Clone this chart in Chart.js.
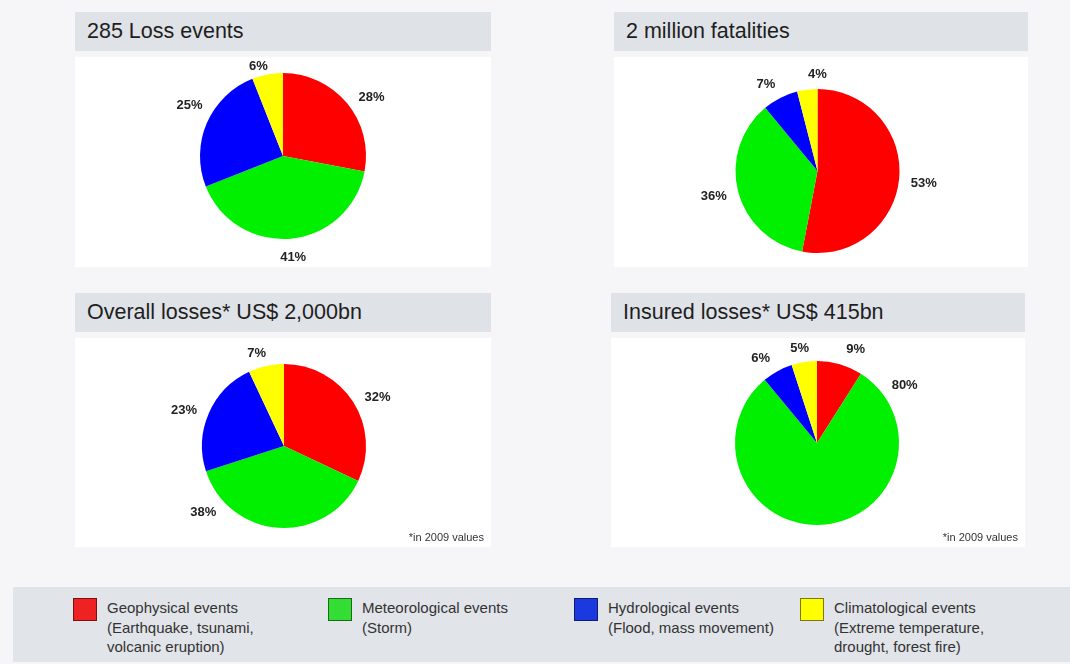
<!DOCTYPE html>
<html>
<head>
<meta charset="utf-8">
<script src="https://cdn.jsdelivr.net/npm/chart.js@4"></script>
<style>
  html, body { margin: 0; padding: 0; }
  body { width: 1070px; height: 664px; background: #f6f6f8; position: relative; overflow: hidden;
         font-family: 'Liberation Sans', Arial, sans-serif; color: #222; }
  .head { position: absolute; background: #dfe2e7; height: 39px; line-height: 39px;
          font-size: 21.5px; padding-left: 12px; box-sizing: border-box; color: #1e1e1e; }
  .body { position: absolute; background: #ffffff; }
  .body canvas { position: absolute; left: 0; top: 0; }
  .note { position: absolute; right: 7px; bottom: 4px; font-size: 11px; color: #333; }
  #legend { position: absolute; left: 13px; top: 587px; width: 1057px; height: 75px; background: #e1e4e9; }
  .item { position: absolute; top: 11px; font-size: 15px; line-height: 19.5px; color: #333; }
  .sw { position: absolute; left: 0; top: 0; width: 22px; height: 21px; border: 1px solid; }
  .txt { position: absolute; top: 0; white-space: nowrap; }
</style>
</head>
<body>
<div id="p0h" class="head" style="left:75px;top:12px;width:416px;"></div>
<div class="body" style="left:75px;top:57px;width:416px;height:210px;"><canvas id="c0"></canvas></div>
<div id="p1h" class="head" style="left:614px;top:12px;width:414px;"></div>
<div class="body" style="left:614px;top:57px;width:414px;height:210px;"><canvas id="c1"></canvas></div>
<div id="p2h" class="head" style="left:75px;top:293px;width:416px;"></div>
<div class="body" style="left:75px;top:338px;width:416px;height:209px;"><canvas id="c2"></canvas><div class="note">*in 2009 values</div></div>
<div id="p3h" class="head" style="left:611px;top:293px;width:414px;"></div>
<div class="body" style="left:611px;top:338px;width:414px;height:209px;"><canvas id="c3"></canvas><div class="note">*in 2009 values</div></div>
<div id="legend"></div>
<script>
// categories and values, clockwise from 12 o'clock
const categories = ['Geophysical events', 'Meteorological events', 'Hydrological events', 'Climatological events'];
const categoryNotes = [
  ['(Earthquake, tsunami,', 'volcanic eruption)'],
  ['(Storm)'],
  ['(Flood, mass movement)'],
  ['(Extreme temperature,', 'drought, forest fire)']
];
const titles = ['285 Loss events', '2 million fatalities', 'Overall losses* US$ 2,000bn', 'Insured losses* US$ 415bn'];
const lossEvents = [28, 41, 25, 6];
const fatalities = [53, 36, 7, 4];
const overallLosses = [32, 38, 23, 7];
const insuredLosses = [9, 80, 6, 5];

const sliceColors = ['#ff0000', '#00f000', '#0000ff', '#ffff00'];
const swatchColors = ['#ee2222', '#33dd33', '#1a3ae0', '#ffff00'];
const swatchBorders = ['#7a1010', '#1a6a1a', '#101a70', '#7a7a10'];

// pie labels drawn outside the slices; angles (deg from top) / gaps can be nudged per label
const outsideLabels = {
  id: 'outsideLabels',
  afterDatasetsDraw(chart, args, opts) {
    const ctx = chart.ctx;
    const meta = chart.getDatasetMeta(0);
    const values = chart.data.datasets[0].data;
    ctx.save();
    ctx.font = 'bold 13px "Liberation Sans", Arial';
    ctx.fillStyle = '#222';
    ctx.textAlign = 'center';
    ctx.textBaseline = 'middle';
    meta.data.forEach(function(arc, i) {
      const p = arc.getProps(['x', 'y', 'startAngle', 'endAngle', 'outerRadius'], true);
      let a = (p.startAngle + p.endAngle) / 2;
      if (opts.angles && opts.angles[i] != null) {
        a = (opts.angles[i] - 90) * Math.PI / 180;
      }
      let gap = 12;
      if (opts.gaps && opts.gaps[i] != null) {
        gap = opts.gaps[i];
      }
      const text = values[i] + '%';
      const w = ctx.measureText(text).width;
      const h = 13;
      const x = p.x + (p.outerRadius + gap + w / 2) * Math.cos(a);
      const y = p.y + (p.outerRadius + gap + h / 2) * Math.sin(a);
      ctx.fillText(text, x, y);
    });
    ctx.restore();
  }
};

function makePie(id, values, size, padding, labelAngles, labelGaps) {
  const canvas = document.getElementById(id);
  canvas.width = size[0];
  canvas.height = size[1];
  canvas.style.width = size[0] + 'px';
  canvas.style.height = size[1] + 'px';
  return new Chart(canvas.getContext('2d'), {
    type: 'pie',
    data: {
      labels: categories,
      datasets: [{
        data: values,
        backgroundColor: sliceColors,
        borderWidth: 0,
        hoverOffset: 0
      }]
    },
    options: {
      responsive: false,
      animation: false,
      layout: { padding: padding },
      plugins: {
        legend: { display: false },
        tooltip: { enabled: false },
        outsideLabels: { angles: labelAngles, gaps: labelGaps }
      }
    },
    plugins: [outsideLabels]
  });
}

titles.forEach(function(t, i) {
  document.getElementById('p' + i + 'h').textContent = t;
});

makePie('c0', lossEvents, [416, 210], { left: 125, right: 125, top: 16, bottom: 28 },
  [55, null, 300, 345], [null, null, null, 3]);
makePie('c1', fatalities, [414, 210], { left: 121, right: 128, top: 32, bottom: 14 },
  [97, null, 330, 0], [null, null, null, 8]);
makePie('c2', overallLosses, [416, 209], { left: 127, right: 125, top: 26, bottom: 19 },
  [61, 229, 291, 344], [null, null, null, 8]);
makePie('c3', insuredLosses, [414, 209], { left: 124, right: 126, top: 23, bottom: 22 },
  [22, 55, 327, 350], [null, null, null, 8]);

// legend strip
const legendX = [60, 315, 561, 787];
const legend = document.getElementById('legend');
categories.forEach(function(name, i) {
  const item = document.createElement('div');
  item.className = 'item';
  item.style.left = legendX[i] + 'px';
  const sw = document.createElement('div');
  sw.className = 'sw';
  sw.style.background = swatchColors[i];
  sw.style.borderColor = swatchBorders[i];
  const txt = document.createElement('div');
  txt.className = 'txt';
  txt.style.left = '34px';
  txt.innerHTML = [name].concat(categoryNotes[i]).join('<br>');
  item.appendChild(sw);
  item.appendChild(txt);
  legend.appendChild(item);
});
</script>
</body>
</html>
